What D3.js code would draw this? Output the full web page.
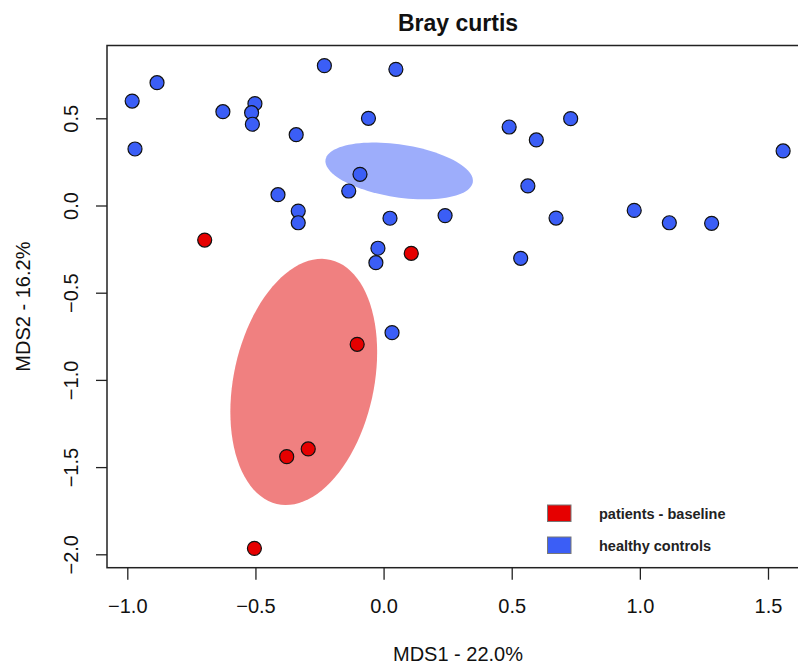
<!DOCTYPE html>
<html>
<head>
<meta charset="utf-8">
<script src="https://cdn.jsdelivr.net/npm/d3@7"></script>
<style>
  html, body { margin: 0; padding: 0; background: #fff; }
  svg { display: block; font-family: "Liberation Sans", Arial, Helvetica, sans-serif; }
</style>
</head>
<body>
<svg id="chart" width="798" height="664"></svg>
<script>
// ---- data ----
const title = "Bray curtis";
const xLabel = "MDS1 - 22.0%";
const yLabel = "MDS2 - 16.2%";
const xTicks = [-1.0, -0.5, 0.0, 0.5, 1.0, 1.5];
const yTicks = [-2.0, -1.5, -1.0, -0.5, 0.0, 0.5];
const groupNames = ["patients - baseline", "healthy controls"];

const patientsX = [-0.698, 0.108, -0.103, -0.294, -0.378, -0.504];
const patientsY = [-0.198, -0.274, -0.796, -1.396, -1.440, -1.966];

const controlsX = [-0.981, -0.884, -0.970, -0.627, -0.502, -0.515, -0.512, -0.341, -0.231, 0.048,
                   -0.059, -0.092, -0.136, -0.412, -0.333, -0.333, 0.025, -0.022, -0.030, 0.033,
                   0.240, 0.490, 0.596, 0.730, 0.563, 0.535, 0.673, 0.978, 1.115, 1.280, 1.559];
const controlsY = [0.599, 0.704, 0.324, 0.538, 0.584, 0.532, 0.466, 0.406, 0.802, 0.781,
                   0.500, 0.179, 0.083, 0.062, -0.032, -0.099, -0.073, -0.245, -0.328, -0.729,
                   -0.058, 0.450, 0.376, 0.498, 0.112, -0.303, -0.072, -0.028, -0.099, -0.102, 0.313];

// ---- layout ----
const svg = d3.select("#chart");
const plot = { left: 107, top: 45.5, right: 809, bottom: 567.7 };

const x = d3.scaleLinear().domain([-1.0, 1.5]).range([127.3, 768]);
const y = d3.scaleLinear().domain([0.5, -2.0]).range([118.3, 554.3]);

const colors = {
  patients: { point: "#e60000", ellipse: "#f08080" },
  controls: { point: "#3b5ef6", ellipse: "#9dadfb" }
};

// standard-error ellipse (95%), as vegan::ordiellipse(kind="se")
function seEllipse(xs, ys, conf) {
  const n = xs.length;
  const mx = d3.mean(xs), my = d3.mean(ys);
  let sxx = 0, syy = 0, sxy = 0;
  for (let i = 0; i < n; i++) {
    sxx += (xs[i] - mx) ** 2;
    syy += (ys[i] - my) ** 2;
    sxy += (xs[i] - mx) * (ys[i] - my);
  }
  sxx /= (n - 1) * n; syy /= (n - 1) * n; sxy /= (n - 1) * n;
  const l11 = Math.sqrt(sxx), l21 = sxy / l11, l22 = Math.sqrt(syy - l21 * l21);
  const s = Math.sqrt(-2 * Math.log(1 - conf));
  const pts = d3.range(0, 101).map(i => {
    const t = 2 * Math.PI * i / 100;
    const c = Math.cos(t), si = Math.sin(t);
    return [mx + s * l11 * c, my + s * (l21 * c + l22 * si)];
  });
  return pts;
}

const clip = svg.append("defs").append("clipPath").attr("id", "plotclip")
  .append("rect").attr("x", plot.left).attr("y", plot.top)
  .attr("width", plot.right - plot.left).attr("height", plot.bottom - plot.top);

const g = svg.append("g").attr("clip-path", "url(#plotclip)");
const line = d3.line().x(d => x(d[0])).y(d => y(d[1]));

g.append("path").attr("d", line(seEllipse(patientsX, patientsY, 0.95)) + "Z")
  .attr("fill", colors.patients.ellipse).attr("stroke", "none");
g.append("path").attr("d", line(seEllipse(controlsX, controlsY, 0.95)) + "Z")
  .attr("fill", colors.controls.ellipse).attr("stroke", "none");

const controls = controlsX.map((v, i) => [v, controlsY[i]]);
const patients = patientsX.map((v, i) => [v, patientsY[i]]);

g.selectAll("circle.ctl").data(controls).join("circle").attr("class", "ctl")
  .attr("cx", d => x(d[0])).attr("cy", d => y(d[1])).attr("r", 7)
  .attr("fill", colors.controls.point).attr("stroke", "#111").attr("stroke-width", 1.2);
g.selectAll("circle.pat").data(patients).join("circle").attr("class", "pat")
  .attr("cx", d => x(d[0])).attr("cy", d => y(d[1])).attr("r", 7)
  .attr("fill", colors.patients.point).attr("stroke", "#111").attr("stroke-width", 1.2);

// frame
svg.append("rect").attr("x", plot.left).attr("y", plot.top)
  .attr("width", plot.right - plot.left).attr("height", plot.bottom - plot.top)
  .attr("fill", "none").attr("stroke", "#222").attr("stroke-width", 1.5);

// x axis
const xAxis = d3.axisBottom(x).tickValues(xTicks).tickFormat(d3.format(".1f")).tickSize(12).tickSizeOuter(0);
const xg = svg.append("g").attr("transform", `translate(0,${plot.bottom})`).call(xAxis);
xg.select(".domain").remove();
xg.selectAll(".tick line").attr("stroke", "#222").attr("stroke-width", 1.3);
xg.selectAll(".tick text").attr("font-size", 20).attr("fill", "#111")
  .attr("font-family", "Liberation Sans, Arial, sans-serif").attr("dy", null).attr("y", 45);

// y axis
const yAxis = d3.axisLeft(y).tickValues(yTicks).tickFormat(d3.format(".1f")).tickSize(11).tickSizeOuter(0);
const yg = svg.append("g").attr("transform", `translate(${plot.left},0)`).call(yAxis);
yg.select(".domain").remove();
yg.selectAll(".tick line").attr("stroke", "#222").attr("stroke-width", 1.3);
yg.selectAll(".tick text").attr("font-size", 20).attr("fill", "#111")
  .attr("font-family", "Liberation Sans, Arial, sans-serif")
  .attr("x", null).attr("dy", null)
  .attr("text-anchor", "middle")
  .attr("transform", "translate(-29,0) rotate(-90)");

// title and labels
svg.append("text").attr("x", (plot.left + plot.right) / 2).attr("y", 31)
  .attr("text-anchor", "middle").attr("font-size", 23).attr("font-weight", "bold").attr("fill", "#111")
  .text(title);
svg.append("text").attr("x", (plot.left + plot.right) / 2).attr("y", 661)
  .attr("text-anchor", "middle").attr("font-size", 20).attr("fill", "#111").text(xLabel);
svg.append("text").attr("transform", `translate(30,${(plot.top + plot.bottom) / 2}) rotate(-90)`)
  .attr("text-anchor", "middle").attr("font-size", 20).attr("fill", "#111").text(yLabel);

// legend
const legendColors = [colors.patients.point, colors.controls.point];
const lg = svg.append("g");
groupNames.forEach((name, i) => {
  const yy = 505 + i * 32;
  lg.append("rect").attr("x", 547.5).attr("y", yy).attr("width", 23.5).attr("height", 16.5)
    .attr("fill", legendColors[i]).attr("stroke", "#777").attr("stroke-width", 1);
  lg.append("text").attr("x", 599).attr("y", yy + 13.5).attr("font-size", 14.5)
    .attr("font-weight", "bold").attr("fill", "#222").text(name);
});
</script>
</body>
</html>
